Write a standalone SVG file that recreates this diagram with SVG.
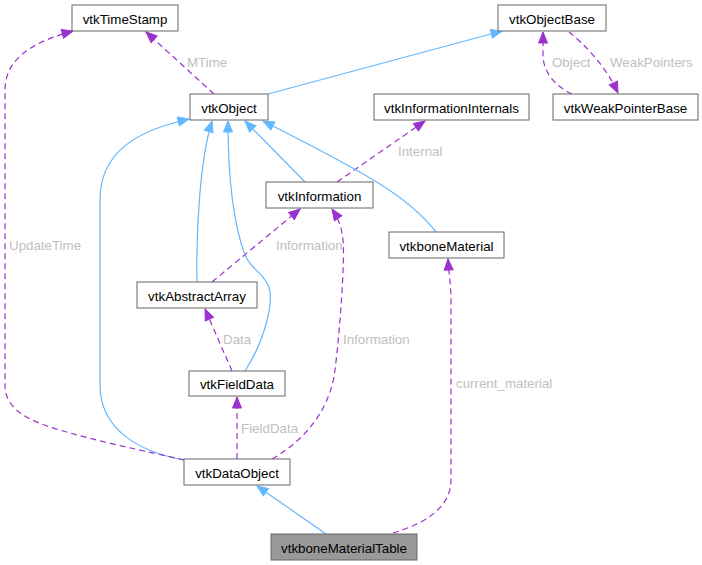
<svg xmlns="http://www.w3.org/2000/svg" width="702" height="565" viewBox="0 0 702 565">
<style>
  .node rect { fill: #ffffff; stroke: #666666; stroke-width: 1; }
  .node.hl rect { fill: #999999; }
  .node text { font-family: "Liberation Sans", Arial, Helvetica, sans-serif; font-size: 13.33px; fill: #000000; text-anchor: middle; }
  .inh { fill: none; stroke: #63b8ff; stroke-width: 1.2; marker-end: url(#ab); }
  .use { fill: none; stroke: #9a32cd; stroke-width: 1.2; stroke-dasharray: 6,4; marker-end: url(#ap); }
  .lbl { font-family: "Liberation Sans", Arial, Helvetica, sans-serif; font-size: 13.33px; fill: #c0c0c0; }
</style>
<defs>
  <marker id="ab" markerUnits="userSpaceOnUse" markerWidth="12" markerHeight="10" refX="11" refY="5" orient="auto" overflow="visible">
    <path d="M0,0.5 L11,5 L0,9.5 Z" fill="#63b8ff" stroke="#63b8ff" stroke-width="1"/>
  </marker>
  <marker id="ap" markerUnits="userSpaceOnUse" markerWidth="12" markerHeight="10" refX="11" refY="5" orient="auto" overflow="visible">
    <path d="M0,0.5 L11,5 L0,9.5 Z" fill="#9a32cd" stroke="#9a32cd" stroke-width="1"/>
  </marker>
</defs>
<rect width="702" height="565" fill="#ffffff"/>
<g id="connectors">
  <path class="use" d="M214,94 L146,32"/>
  <path class="inh" d="M268,94 L502,31"/>
  <path class="use" d="M572,94 C555,86 543,72 543,55 L543,32"/>
  <path class="use" d="M569,32 C585,45 605,65 618,93"/>
  <path class="inh" d="M306,183 L245,121"/>
  <path class="use" d="M337,182 L425,121"/>
  <path class="inh" d="M436,232 C410,198 370,175 263,121"/>
  <path class="inh" d="M197,282 C196,230 200,160 212,121"/>
  <path class="use" d="M212,282 L300,209"/>
  <path class="inh" d="M245,371 C265,340 275,300 268,285 C262,272 250,268 245,255 C232,220 228,170 228,121"/>
  <path class="use" d="M232,371 L205,309"/>
  <path class="inh" d="M184,460 C140,452 100,430 100,385 L100,200 C100,150 140,130 189,119"/>
  <path class="use" d="M184,460 C150,452 90,440 50,427 C20,417 5,405 5,385 L5,90 C5,55 40,40 73,31"/>
  <path class="use" d="M237,459 L237,397"/>
  <path class="use" d="M272,459 C305,440 330,410 335,370 C340,330 345,260 343,240 C342,228 338,218 332,209"/>
  <path class="inh" d="M326,534 L257,486"/>
  <path class="use" d="M393,533 C420,525 451,510 451,480 L451,300 C451,285 449,275 448,259"/>
  <text class="lbl" x="187" y="67">MTime</text>
  <text class="lbl" x="552" y="67">Object</text>
  <text class="lbl" x="610" y="67">WeakPointers</text>
  <text class="lbl" x="398" y="156">Internal</text>
  <text class="lbl" x="9" y="250">UpdateTime</text>
  <text class="lbl" x="276" y="250">Information</text>
  <text class="lbl" x="223" y="344">Data</text>
  <text class="lbl" x="343" y="344">Information</text>
  <text class="lbl" x="456" y="388">current_material</text>
  <text class="lbl" x="241" y="433">FieldData</text>
</g>
<g id="vtkTimeStamp" class="node"><rect x="72" y="5" width="106" height="26"/><text x="125" y="23.5">vtkTimeStamp</text></g>
<g id="vtkObjectBase" class="node"><rect x="498" y="5" width="108" height="26"/><text x="552" y="23.5">vtkObjectBase</text></g>
<g id="vtkObject" class="node"><rect x="190" y="94" width="78" height="26"/><text x="229" y="112.5">vtkObject</text></g>
<g id="vtkInformationInternals" class="node"><rect x="374" y="94" width="155" height="26"/><text x="451.5" y="112.5">vtkInformationInternals</text></g>
<g id="vtkWeakPointerBase" class="node"><rect x="553" y="94" width="145" height="26"/><text x="625.5" y="112.5">vtkWeakPointerBase</text></g>
<g id="vtkInformation" class="node"><rect x="266" y="182" width="107" height="26"/><text x="319.5" y="200.5">vtkInformation</text></g>
<g id="vtkboneMaterial" class="node"><rect x="389" y="232" width="115" height="26"/><text x="446.5" y="250.5">vtkboneMaterial</text></g>
<g id="vtkAbstractArray" class="node"><rect x="137" y="282" width="120" height="26"/><text x="197" y="300.5">vtkAbstractArray</text></g>
<g id="vtkFieldData" class="node"><rect x="189" y="371" width="96" height="25"/><text x="237" y="389">vtkFieldData</text></g>
<g id="vtkDataObject" class="node"><rect x="184" y="459" width="106" height="26"/><text x="237" y="477.5">vtkDataObject</text></g>
<g id="vtkboneMaterialTable" class="node hl"><rect x="271" y="534" width="146" height="26"/><text x="344" y="552.5">vtkboneMaterialTable</text></g>
</svg>
